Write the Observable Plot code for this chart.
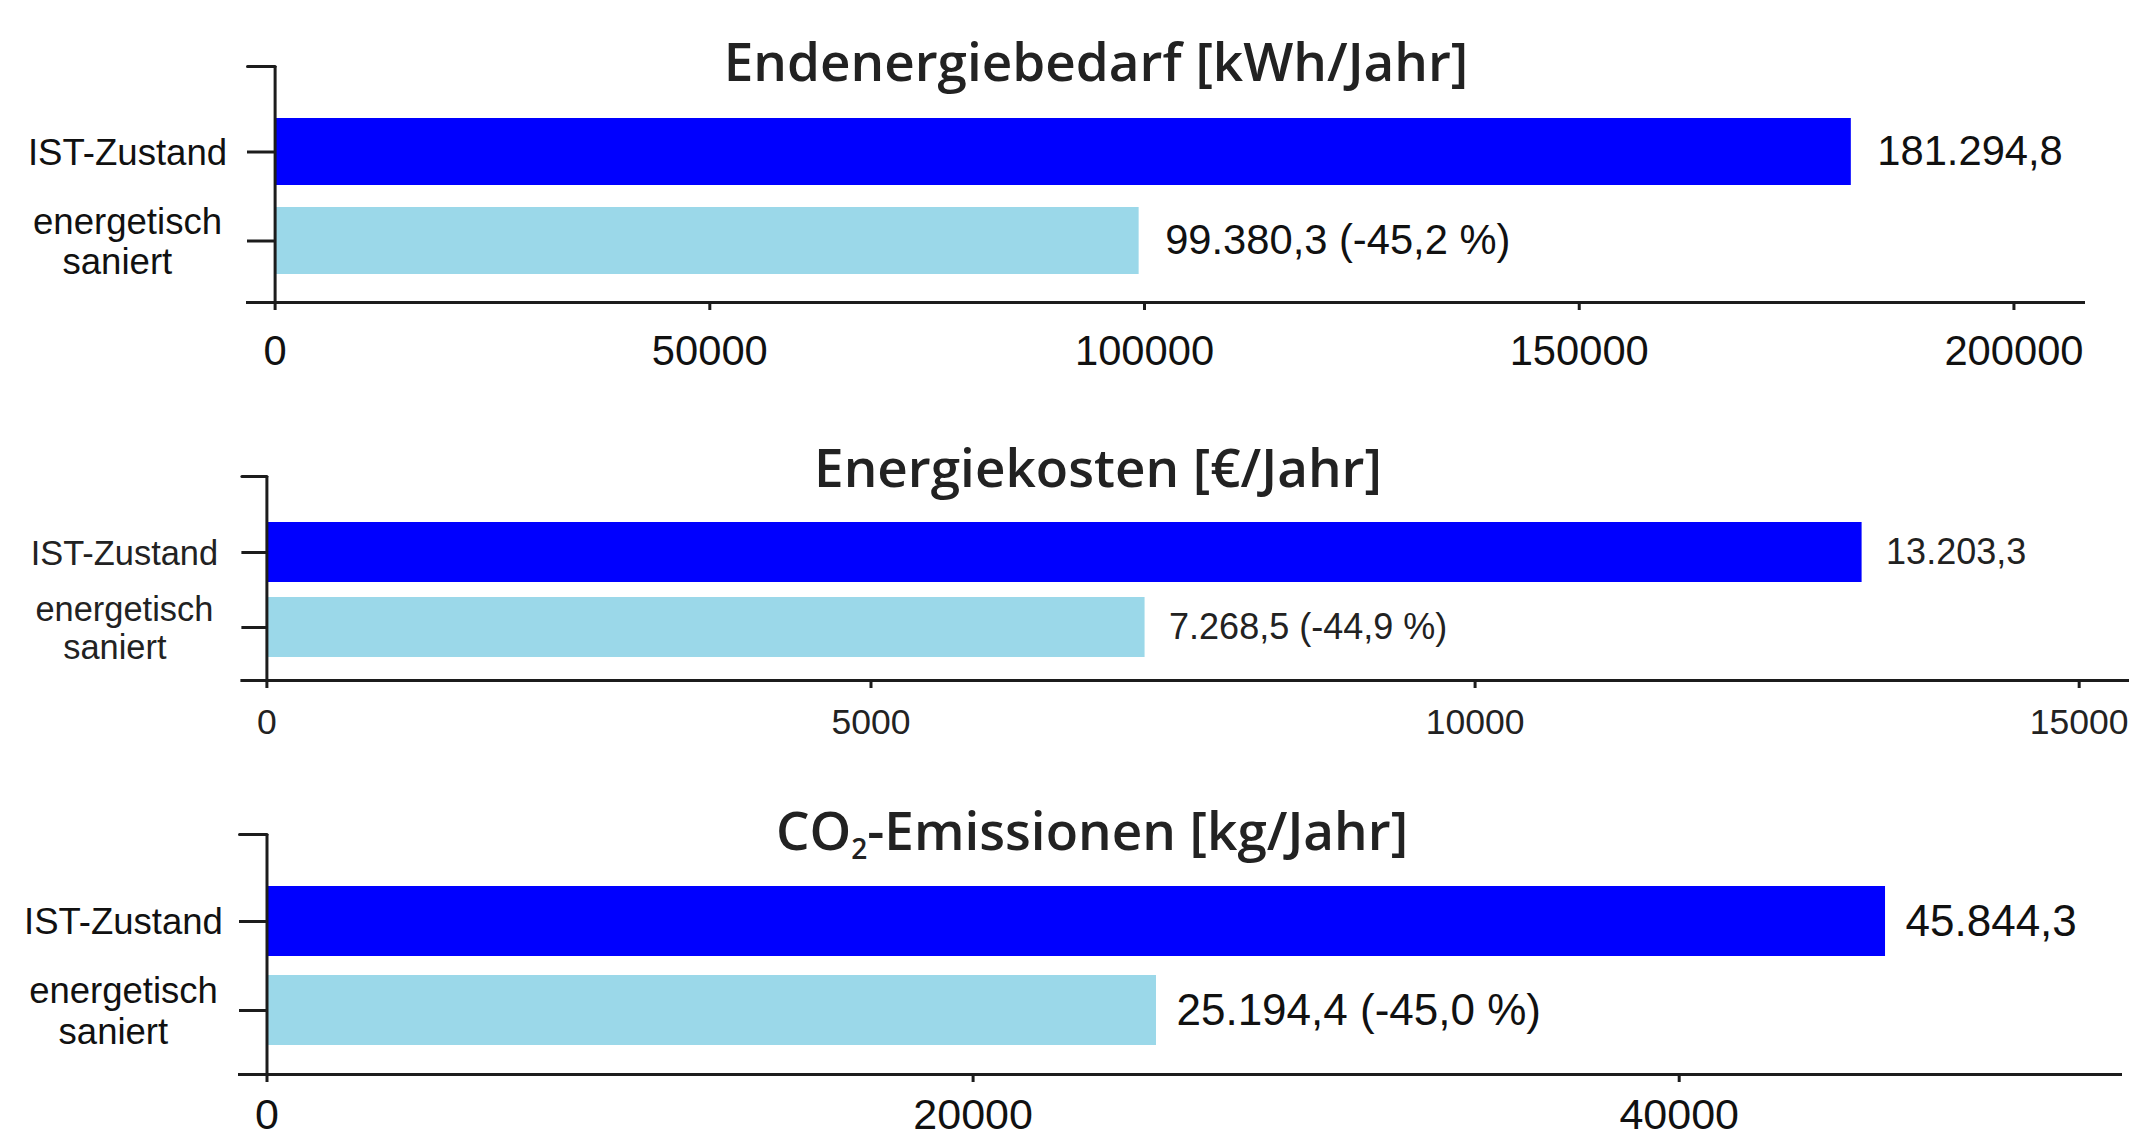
<!DOCTYPE html>
<html>
<head>
<meta charset="utf-8">
<script src="https://cdn.jsdelivr.net/npm/d3@7"></script>
<script src="https://cdn.jsdelivr.net/npm/@observablehq/plot@0.6"></script>
<style>
html, body { margin: 0; padding: 0; background: #fff; overflow: hidden; }
#page { position: relative; width: 2153px; height: 1138px; overflow: hidden; background: #fff; }
.panel { position: absolute; left: 0; }
.title { position: absolute; transform: translateX(-50%); white-space: nowrap;
  font-family: "Open Sans", sans-serif; font-weight: 600; font-size: 53px; line-height: 1; color: #222; }
.title sub { font-size: 0.53em; vertical-align: baseline; position: relative; top: 0.32em; }
</style>
</head>
<body>
<div id="page"></div>
<script>
// ---- data ----
const categories = ["IST-Zustand", "energetisch saniert"];
const categoryLabels = ["IST-Zustand", "energetisch\nsaniert\u00A0\u00A0"];
const titles = ["Endenergiebedarf [kWh/Jahr]", "Energiekosten [€/Jahr]", "CO<sub>2</sub>-Emissionen [kg/Jahr]"];
const endenergie = [181294.8, 99380.3];
const energiekosten = [13203.3, 7268.5];
const co2 = [45844.3, 25194.4];
const changes = [-45.2, -44.9, -45.0];
const ticksEndenergie = [0, 50000, 100000, 150000, 200000];
const ticksKosten = [0, 5000, 10000, 15000];
const ticksCo2 = [0, 20000, 40000];
const barColors = ["#0000FF", "#9BD8E9"];

// ---- layout (positions / sizes / styles) ----
const layout = [
  {top: 26, frameH: 236, ml: 274.6, mr: 70, xMax: 208000, tickLen: 27.6, insetTop: 29.75, insetBottom: 5.25, padding: 0.246,
   fsY: 36.6, fsX: 41.7, fsV: 41.7, xPad: 25, yPad: 120, dx: 26, titleX: 1096, titleTop: 34, ink: "#111"},
  {top: 436, frameH: 204, ml: 266.4, mr: 26, xMax: 15400, tickLen: 25, insetTop: 31, insetBottom: 8, padding: 0.2,
   fsY: 34.4, fsX: 35.5, fsV: 36, xPad: 20, yPad: 117.5, dx: 24, titleX: 1098, titleTop: 440, ink: "#222"},
  {top: 794, frameH: 240, ml: 266.5, mr: 33, xMax: 52500, tickLen: 27.5, insetTop: 33.5, insetBottom: 9.5, padding: 0.213,
   fsY: 36.5, fsX: 43, fsV: 44, xPad: 16, yPad: 116, dx: 20, titleX: 1092, titleTop: 803, ink: "#111"}
];
const series = [endenergie, energiekosten, co2];
const tickSets = [ticksEndenergie, ticksKosten, ticksCo2];

const de = d3.formatLocale({decimal: ",", thousands: ".", grouping: [3], currency: ["", " €"], minus: "-"});
const fmtVal = de.format(",.1f");
const fmtPct = de.format(".1f");

const axisInk = "#1c1c1c";
const tickShape = {draw(context, l) { context.moveTo(0, 0); context.lineTo(0, -l); }};
const page = document.getElementById("page");

series.forEach((values, k) => {
  const L = layout[k];
  const data = categories.map((c, i) => ({
    category: c,
    value: values[i],
    label: i === 0 ? fmtVal(values[i]) : `${fmtVal(values[i])} (${fmtPct(changes[k])} %)`
  }));
  const marginTop = 40, marginBottom = 70;
  const svg = Plot.plot({
    width: 2153,
    height: marginTop + L.frameH + marginBottom,
    marginTop, marginBottom,
    marginLeft: L.ml,
    marginRight: L.mr,
    style: {fontFamily: "'Liberation Sans', Arial, sans-serif", background: "transparent", color: L.ink, overflow: "visible"},
    x: {domain: [0, L.xMax], axis: null},
    y: {type: "band", domain: categories, padding: L.padding, insetTop: L.insetTop, insetBottom: L.insetBottom, axis: null},
    color: {domain: categories, range: barColors},
    marks: [
      Plot.barX(data, {x: "value", y: "category", fill: "category"}),
      Plot.text(data, {x: "value", y: "category", text: "label", textAnchor: "start", dx: L.dx, fontSize: L.fsV, fill: L.ink}),
      Plot.ruleX([0], {stroke: axisInk, strokeWidth: 3}),
      Plot.frame({anchor: "bottom", insetLeft: -L.tickLen, stroke: axisInk, strokeWidth: 3}),
      Plot.vector([0], {frameAnchor: "top-left", rotate: -90, length: L.tickLen, anchor: "start", shape: tickShape, stroke: axisInk, strokeWidth: 3}),
      Plot.axisY({
        tickSize: L.tickLen, tickPadding: L.yPad, textAnchor: "middle", fontSize: L.fsY, lineHeight: 1.11,
        tickFormat: (c) => categoryLabels[categories.indexOf(c)], label: null, stroke: axisInk, fill: L.ink, strokeWidth: 3
      }),
      Plot.axisX({
        ticks: tickSets[k], tickSize: 8, tickPadding: L.xPad, fontSize: L.fsX,
        tickFormat: (d) => String(d), label: null, stroke: axisInk, fill: L.ink, strokeWidth: 3
      })
    ]
  });
  const wrap = document.createElement("div");
  wrap.className = "panel";
  wrap.style.top = L.top + "px";
  wrap.appendChild(svg);
  page.appendChild(wrap);

  const t = document.createElement("div");
  t.className = "title";
  t.style.left = L.titleX + "px";
  t.style.top = L.titleTop + "px";
  t.innerHTML = titles[k];
  page.appendChild(t);
});
</script>
</body>
</html>
